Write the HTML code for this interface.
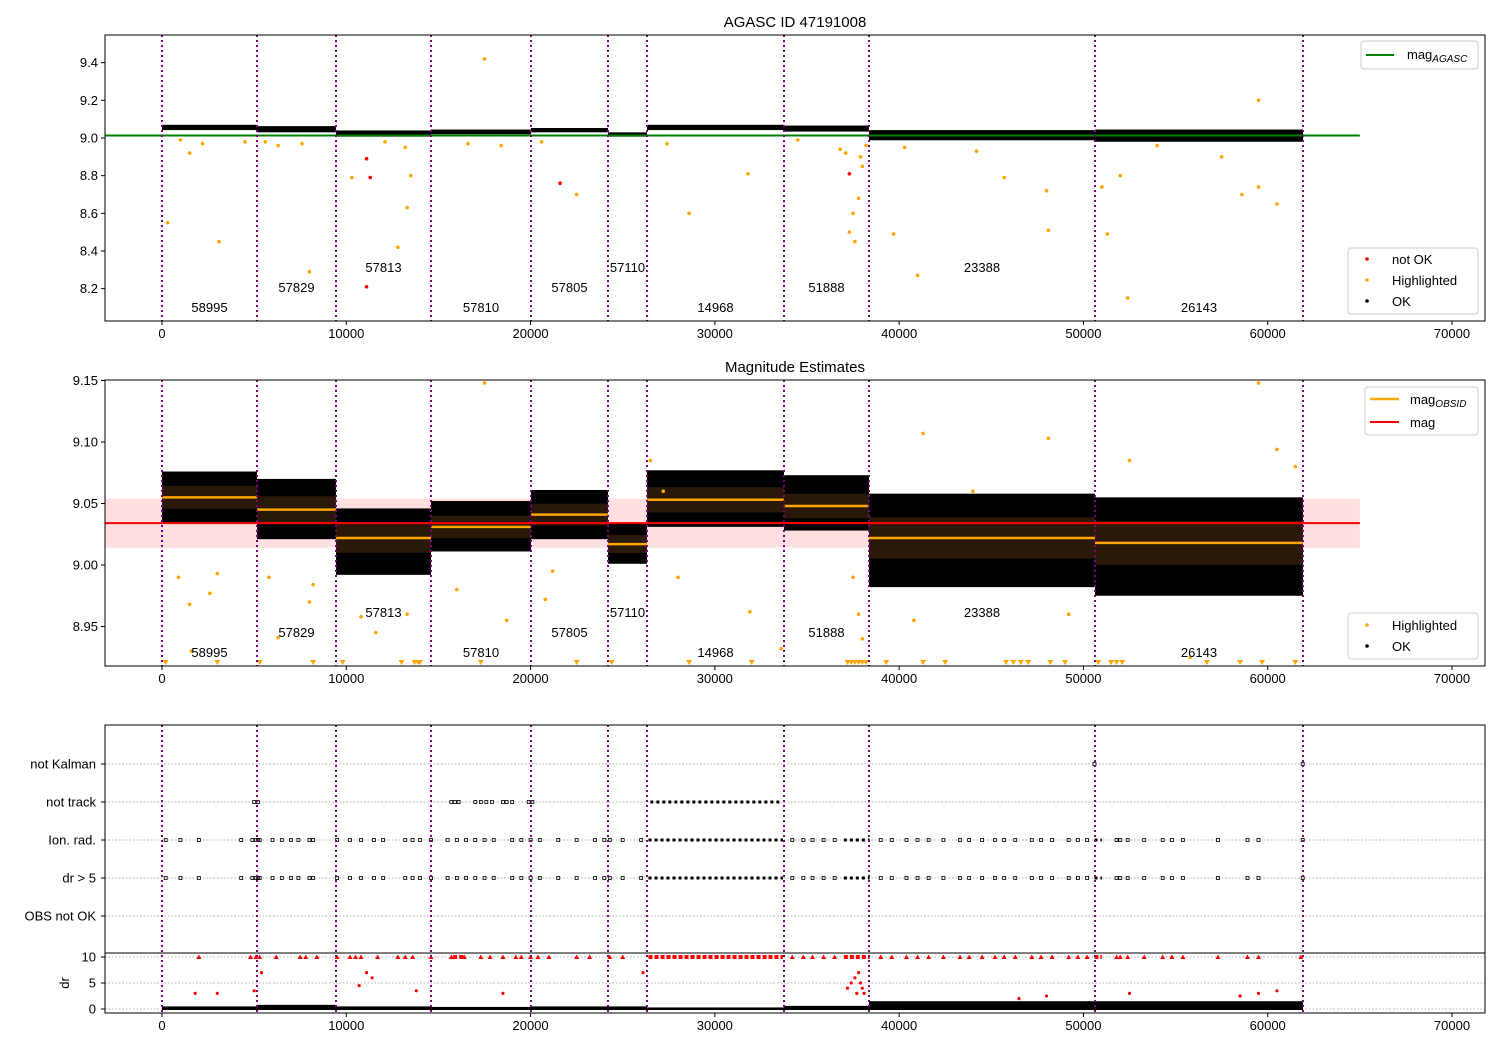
<!DOCTYPE html>
<html><head><meta charset="utf-8">
<style>
html,body{margin:0;padding:0;background:#fff;}
svg{display:block;font-family:"Liberation Sans","DejaVu Sans",sans-serif;}
</style></head>
<body>
<svg id="chart" width="1500" height="1050" viewBox="0 0 1500 1050" xmlns="http://www.w3.org/2000/svg">
</svg>
<script>
// ---------- data ----------
const segStart = [0,5155,9442,14597,20023,24201,26318,33752,38364,50628];
const segEnd   = [5155,9442,14597,20023,24201,26318,33752,38364,50628,61914];
const obsids   = ["58995","57829","57813","57810","57805","57110","14968","51888","23388","26143"];
const segMean  = [9.055,9.045,9.022,9.031,9.041,9.017,9.053,9.048,9.022,9.018];
const p2Hi     = [9.076,9.070,9.046,9.052,9.061,9.034,9.077,9.073,9.058,9.055];
const p2Lo     = [9.034,9.021,8.992,9.011,9.021,9.001,9.031,9.028,8.982,8.975];
const p1Hi     = [9.070,9.063,9.040,9.045,9.053,9.030,9.070,9.066,9.042,9.045];
const p1Lo     = [9.042,9.030,9.007,9.020,9.030,9.007,9.042,9.034,8.988,8.980];
const labelRow = [0,1,2,0,1,2,0,1,2,0];
const magAgasc = 9.013;
const magMean = 9.034, magLo = 9.014, magHi = 9.054;
const p1OrangeT = [300,1500,3100,4500,8000,10300,12800,13300,13500,17500,22500,28600,31800,37300,37500,37600,37800,38000,39700,41000,45700,48000,48100,51000,51300,52000,52400,58600,59500,59500,60500,1000,2200,5600,6300,7600,12100,13200,16600,18400,20600,27400,34500,36800,37100,37900,38200,40300,44200,54000,57500];
const p1OrangeM = [8.55,8.92,8.45,8.98,8.29,8.79,8.42,8.63,8.80,9.42,8.70,8.60,8.81,8.50,8.60,8.45,8.68,8.85,8.49,8.27,8.79,8.72,8.51,8.74,8.49,8.80,8.15,8.70,9.20,8.74,8.65,8.99,8.97,8.98,8.96,8.97,8.98,8.95,8.97,8.96,8.98,8.97,8.99,8.94,8.92,8.90,8.96,8.95,8.93,8.96,8.90];
const p1RedT = [11100,11300,11100,21600,37300];
const p1RedM = [8.89,8.79,8.21,8.76,8.81];
const p2OrangeT = [900,1500,1600,2600,3000,5800,6300,8000,8200,10800,11600,13300,16000,17500,18700,20800,21200,26500,27200,28000,31900,33600,37500,37800,38000,40800,41300,44000,48100,49200,52500,55800,59500,60500,61500];
const p2OrangeM = [8.99,8.968,8.93,8.977,8.993,8.99,8.941,8.97,8.984,8.958,8.945,8.96,8.98,9.148,8.955,8.972,8.995,9.085,9.06,8.99,8.962,8.932,8.99,8.96,8.94,8.955,9.107,9.06,9.103,8.96,9.085,8.925,9.148,9.094,9.08];
const p2TriT = [200,3000,5300,8200,9800,13000,13700,13900,14000,17300,22500,24400,28600,32000,37200,37400,37600,37800,38000,38200,39300,41300,42500,45800,46200,46600,47000,48200,49000,50800,51500,51800,52100,56700,58500,59700,61500];
const flagNames = ["not Kalman","not track","Ion. rad.","dr > 5","OBS not OK"];
const notKalmanT = [50600,61900];
const notTrackT = [5000,5200,15700,15900,16100,17000,17300,17600,17900,18500,18700,19000,19900,20100];
const notTrackRanges = [[26500,33600]];
const ionT = [200,1000,2000,4300,4900,5100,5200,5300,6000,6500,7000,7400,8000,8200,9500,10200,10800,11500,12000,13200,13600,14000,14600,15500,16000,16500,17000,17500,18000,19000,19500,20000,20500,21500,22500,23500,24000,24300,25000,26000,34200,34800,35300,35900,36500,39000,39600,40400,41000,41600,42400,43300,43800,44500,45200,45700,46300,47200,47700,48300,49200,49700,50200,51800,52000,52400,53300,54300,54800,55400,57300,58900,59500,61900];
const ionRanges = [[26400,33700],[37000,38400],[50600,51000]];
const drT = ionT;
const drRanges = ionRanges;
const redTriT = [2000,4800,5100,5300,6200,7500,7800,8400,9500,10200,10500,10800,11700,12800,13200,13600,14600,15700,16400,17300,17800,18500,19200,19500,20000,20400,21000,22500,23200,24300,25000,34200,34800,35300,35900,36500,39000,39600,40400,41000,41600,42400,43300,43800,44500,45200,45700,46300,47200,47700,48300,49200,49700,50200,51800,52000,52400,53300,54300,54800,55400,57300,58900,59500,61800];
const redTriRanges = [[26400,33700],[37000,38400],[50600,51000],[15800,16400]];
const redDotT = [1800,3000,5000,5400,10700,11100,11400,13800,18500,26100,37200,37400,37600,37700,37800,37900,38000,38100,46500,48000,52500,58500,59500,60500];
const redDotD = [3,3,3.5,7,4.5,7,6,3.5,3,7,4,5,6,3,7,5,4,3,2,2.5,3,2.5,3,3.5];
const drBandHi = [0.5,0.8,0.5,0.4,0.5,0.5,0.3,0.6,1.5,1.5];
const xTicks = [0,10000,20000,30000,40000,50000,60000,70000];
const p1YTicks = [8.2,8.4,8.6,8.8,9.0,9.2,9.4];
const p2YTicks = [8.95,9.00,9.05,9.10,9.15];
const drTicks = [0,5,10];

// ---------- scales ----------
const XL=105, XR=1485;
const X = t => 162 + t*1290/70000;
const Y1 = m => 138 - (m-9.0)*188.33;
const Y2 = m => 565 - (m-9.0)*1230;
const YF = i => 764 + i*38;
const YD = d => 1009 - d*5.2;
const XMIN = (XL-162)*70000/1290;

const svg = document.getElementById('chart');
const NS = 'http://www.w3.org/2000/svg';
function mk(tag, attrs, parent){
  const e = document.createElementNS(NS, tag);
  for (const k in attrs) e.setAttribute(k, attrs[k]);
  (parent||svg).appendChild(e);
  return e;
}
function txt(x,y,s,anchor,size,parent){
  const e = mk('text',{x:x,y:y,'text-anchor':anchor||'middle','font-size':size||13,fill:'#000'},parent);
  e.textContent = s; return e;
}

function panel(name){
  const g = mk('g',{});
  
  
  return g;
}
function frame(g, top, bot){
  const r = mk('rect',{x:XL,y:top,width:XR-XL,height:bot-top,fill:'none',stroke:'#000','stroke-width':1},g);
  
  
}
function xAxis(g, bot){
  const ax = mk('g',{},g);
  
  
  xTicks.forEach(t=>{
    mk('line',{x1:X(t),x2:X(t),y1:bot,y2:bot+4,stroke:'#000'},ax);
    const l = txt(X(t),bot+17,String(t),'middle',13,ax);
    
    
  });
}
function vlines(g, top, bot){
  segStart.concat([segEnd[segEnd.length-1]]).forEach(t=>{
    const l = mk('line',{x1:X(t),x2:X(t),y1:top,y2:bot,stroke:'#800080','stroke-width':2,'stroke-dasharray':'2,3'},g);
    
    
  });
}
function labels(g, yBase){
  obsids.forEach((o,i)=>{
    const cx = (X(segStart[i])+X(segEnd[i]))/2;
    const l = txt(cx, yBase - labelRow[i]*20, o, 'middle', 13, g);
    
    
  });
}

const t1 = txt(795,27,'AGASC ID 47191008','middle',15);


const t2 = txt(795,372,'Magnitude Estimates','middle',15);



// ---------- panel 1 ----------
const g1 = panel('agasc-panel');
segStart.forEach((s,i)=>{
  const r = mk('rect',{x:X(s),y:Y1(p1Hi[i]),width:X(segEnd[i])-X(s),height:Y1(p1Lo[i])-Y1(p1Hi[i]),fill:'#000'},g1);
  
  
});
const gl = mk('line',{x1:X(XMIN),x2:X(65000),y1:Y1(magAgasc),y2:Y1(magAgasc),stroke:'#008000','stroke-width':2},g1);


p1OrangeT.forEach((t,i)=>{
  const c = mk('circle',{cx:X(t),cy:Y1(p1OrangeM[i]),r:1.8,fill:'#ffa500'},g1);
  
  
});
p1RedT.forEach((t,i)=>{
  const c = mk('circle',{cx:X(t),cy:Y1(p1RedM[i]),r:1.8,fill:'#ff0000'},g1);
  
  
});
vlines(g1,35,321);
labels(g1,312);
frame(g1,35,321);
xAxis(g1,321);
p1YTicks.forEach(v=>{
  mk('line',{x1:XL-4,x2:XL,y1:Y1(v),y2:Y1(v),stroke:'#000'},g1);
  const l = txt(XL-7,Y1(v)+4.5,v.toFixed(1),'end',13,g1);
  
  
});
const lg1 = mk('g',{},g1);


mk('rect',{x:1361,y:41,width:117,height:28,rx:3,fill:'#fff',stroke:'#ccc'},lg1);
mk('line',{x1:1366,x2:1394,y1:55,y2:55,stroke:'#008000','stroke-width':2},lg1);
const lt = txt(1407,59,'mag','start',13,lg1);
const sub = mk('tspan',{'font-size':10,'font-style':'italic',dy:3},lt); sub.textContent='AGASC';
const lg2 = mk('g',{},g1);


mk('rect',{x:1348,y:248,width:130,height:66,rx:3,fill:'#fff',stroke:'#ccc'},lg2);
[['#ff0000','not OK',259],['#ffa500','Highlighted',280],['#000','OK',301]].forEach(a=>{
  mk('circle',{cx:1367,cy:a[2],r:1.8,fill:a[0]},lg2);
  txt(1392,a[2]+5,a[1],'start',13,lg2);
});

// ---------- panel 2 ----------
const g2 = panel('magnitude-panel');
const band = mk('rect',{x:X(XMIN),y:Y2(magHi),width:X(65000)-X(XMIN),height:Y2(magLo)-Y2(magHi),fill:'#ff0000','fill-opacity':0.12},g2);


segStart.forEach((s,i)=>{
  const w = X(segEnd[i])-X(s);
  const r = mk('rect',{x:X(s),y:Y2(p2Hi[i]),width:w,height:Y2(p2Lo[i])-Y2(p2Hi[i]),fill:'#000'},g2);
  
  
  const sd = (p2Hi[i]-p2Lo[i])/4.5;
  const r2 = mk('rect',{x:X(s),y:Y2(segMean[i]+sd),width:w,height:Y2(segMean[i]-sd)-Y2(segMean[i]+sd),fill:'#2a1808'},g2);
  
  
});
const rl = mk('line',{x1:X(XMIN),x2:X(65000),y1:Y2(magMean),y2:Y2(magMean),stroke:'#ff0000','stroke-width':2},g2);


segStart.forEach((s,i)=>{
  const l = mk('line',{x1:X(s),x2:X(segEnd[i]),y1:Y2(segMean[i]),y2:Y2(segMean[i]),stroke:'#ffa500','stroke-width':2.5},g2);
  
  
});
p2OrangeT.forEach((t,i)=>{
  const c = mk('circle',{cx:X(t),cy:Y2(p2OrangeM[i]),r:1.8,fill:'#ffa500'},g2);
  
  
});
p2TriT.forEach(t=>{
  const x = X(t);
  const p = mk('polygon',{points:`${x-3},660 ${x+3},660 ${x},665`,fill:'#ffa500'},g2);
  
  
});
vlines(g2,380,666);
labels(g2,657);
frame(g2,380,666);
xAxis(g2,666);
p2YTicks.forEach(v=>{
  mk('line',{x1:XL-4,x2:XL,y1:Y2(v),y2:Y2(v),stroke:'#000'},g2);
  const l = txt(XL-7,Y2(v)+4.5,v.toFixed(2),'end',13,g2);
  
  
});
const lg3 = mk('g',{},g2);


mk('rect',{x:1365,y:387,width:113,height:48,rx:3,fill:'#fff',stroke:'#ccc'},lg3);
mk('line',{x1:1370,x2:1399,y1:399,y2:399,stroke:'#ffa500','stroke-width':2.5},lg3);
const lt2 = txt(1410,404,'mag','start',13,lg3);
const sub2 = mk('tspan',{'font-size':10,'font-style':'italic',dy:3},lt2); sub2.textContent='OBSID';
mk('line',{x1:1370,x2:1399,y1:422,y2:422,stroke:'#ff0000','stroke-width':2},lg3);
txt(1410,427,'mag','start',13,lg3);
const lg4 = mk('g',{},g2);


mk('rect',{x:1348,y:613,width:130,height:46,rx:3,fill:'#fff',stroke:'#ccc'},lg4);
[['#ffa500','Highlighted',625],['#000','OK',646]].forEach(a=>{
  mk('circle',{cx:1367,cy:a[2],r:1.8,fill:a[0]},lg4);
  txt(1392,a[2]+5,a[1],'start',13,lg4);
});

// ---------- panel 3 ----------
const g3 = panel('flags-panel');
flagNames.forEach((n,i)=>{
  mk('line',{x1:XL,x2:XR,y1:YF(i),y2:YF(i),stroke:'#b0b0b0','stroke-dasharray':'1.5,2'},g3);
  mk('line',{x1:XL-4,x2:XL,y1:YF(i),y2:YF(i),stroke:'#000'},g3);
  const l = txt(XL-9,YF(i)+4.5,n,'end',13,g3);
  
  
});
drTicks.forEach(d=>{
  mk('line',{x1:XL,x2:XR,y1:YD(d),y2:YD(d),stroke:'#b0b0b0','stroke-dasharray':'1.5,2'},g3);
  mk('line',{x1:XL-4,x2:XL,y1:YD(d),y2:YD(d),stroke:'#000'},g3);
  const l = txt(XL-9,YD(d)+4.5,String(d),'end',13,g3);
  
  
});
const dl = txt(0,0,'dr','middle',13,g3);
dl.setAttribute('transform','translate(69,983) rotate(-90)');


function flagPts(times, ranges, row){
  times.forEach(t=>{
    const p = mk('rect',{x:X(t)-1.5,y:YF(row)-1.5,width:3,height:3,fill:'none',stroke:'#000','stroke-width':0.8},g3);
    
    
  });
  ranges.forEach(r=>{
    const l = mk('line',{x1:X(r[0]),x2:X(r[1]),y1:YF(row),y2:YF(row),stroke:'#000','stroke-width':3,'stroke-dasharray':'3,3'},g3);
    
    
  });
}
flagPts(notKalmanT,[],0);
flagPts(notTrackT,notTrackRanges,1);
flagPts(ionT,ionRanges,2);
flagPts(drT,drRanges,3);
segStart.forEach((s,i)=>{
  const r = mk('rect',{x:X(s),y:YD(drBandHi[i]),width:X(segEnd[i])-X(s),height:YD(0)-YD(drBandHi[i])+1,fill:'#000'},g3);
  
  
});
redTriT.forEach(t=>{
  const x = X(t);
  const p = mk('polygon',{points:`${x-2.5},${YD(10)+2} ${x+2.5},${YD(10)+2} ${x},${YD(10)-2.5}`,fill:'#ff0000'},g3);
  
  
});
redTriRanges.forEach(r=>{
  const l = mk('line',{x1:X(r[0]),x2:X(r[1]),y1:YD(10),y2:YD(10),stroke:'#ff0000','stroke-width':4,'stroke-dasharray':'4,2'},g3);
  
  
});
redDotT.forEach((t,i)=>{
  const c = mk('circle',{cx:X(t),cy:YD(redDotD[i]),r:1.6,fill:'#ff0000'},g3);
  
  
});
vlines(g3,725,1013);
frame(g3,725,1013);
mk('line',{x1:XL,x2:XR,y1:953,y2:953,stroke:'#000','stroke-width':1},g3);
xAxis(g3,1013);
</script>
</body></html>
